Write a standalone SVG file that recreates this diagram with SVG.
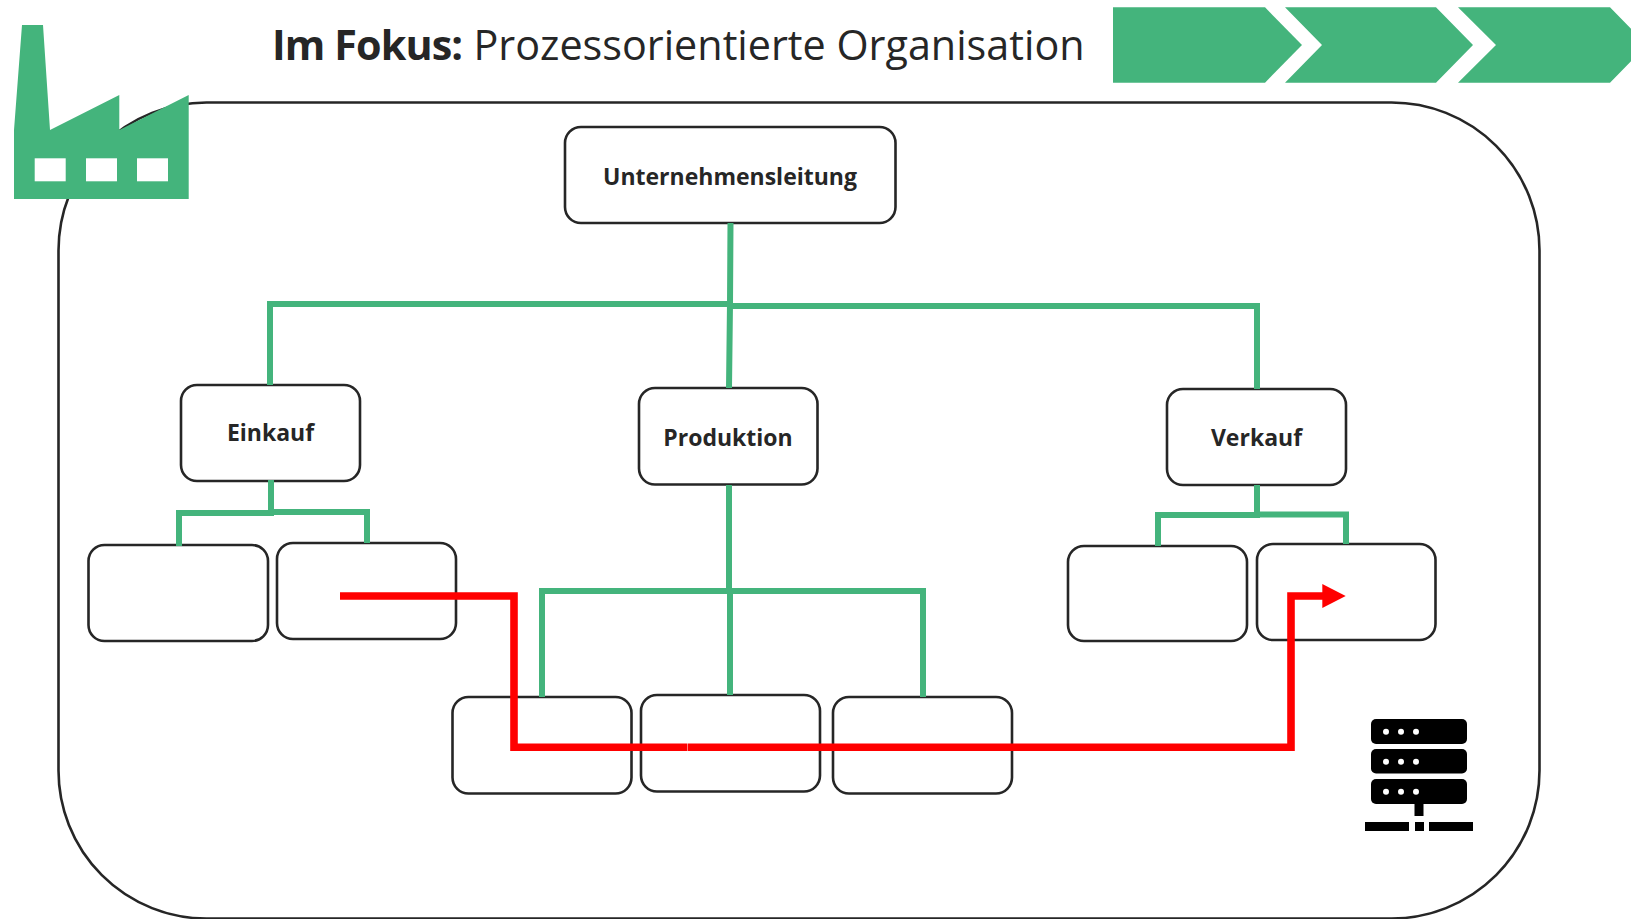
<svg xmlns="http://www.w3.org/2000/svg" width="1631" height="919" viewBox="0 0 1631 919">
<style>
.n{fill:#fff;stroke:#262626;stroke-width:2.6}
.g{fill:none;stroke:#44b47c;stroke-width:6}
.r{fill:none;stroke:#f00;stroke-width:7.6}
.t{font-family:"Open Sans","Noto Sans",sans-serif;font-weight:700;font-size:23px;fill:#262626;text-anchor:middle}
.h{font-family:"Open Sans","Noto Sans",sans-serif;font-size:41.3px;fill:#262626}
.f{fill:#44b47c}
</style>
<rect width="1631" height="919" fill="#fff"/>
<rect id="frame" x="58.500" y="102.500" width="1481" height="816" rx="148" ry="148" fill="none" stroke="#262626" stroke-width="2.600"/>
<g id="factory" class="f"><path d="M14 199V130L22 25H43L50 130L119.300 95V130L188.700 95V199Z"/><rect x="34.700" y="158.300" width="31" height="23" fill="#fff"/><rect x="86" y="158.300" width="31" height="23" fill="#fff"/><rect x="137" y="158.300" width="31" height="23" fill="#fff"/></g>
<text id="title-bold" class="h" x="272" y="59.500" font-weight="700" letter-spacing="-0.9">Im Fokus:</text>
<text id="title" class="h" x="473.500" y="59.500">Prozessorientierte Organisation</text>
<g id="chevrons" class="f"><path d="M1113 7.300H1265L1302 45L1265 82.700H1113Z"/><path d="M1285 7.300H1436L1473 45L1436 82.700H1285L1322 45Z"/><path d="M1458 7.300H1610L1647 45L1610 82.700H1458L1496 45Z"/></g>
<g id="node-top"><rect class="n" x="565" y="127" width="330.500" height="96" rx="16"/><text class="t" x="730" y="184.500">Unternehmensleitung</text></g>
<g id="node-einkauf"><rect class="n" x="181" y="385" width="179" height="96" rx="16"/><text class="t" x="270.500" y="441">Einkauf</text></g>
<g id="node-produktion"><rect class="n" x="639" y="388" width="178.500" height="96.500" rx="16"/><text class="t" x="728" y="445.500">Produktion</text></g>
<g id="node-verkauf"><rect class="n" x="1167" y="389" width="179" height="96" rx="16"/><text class="t" x="1256.500" y="445.500">Verkauf</text></g>
<g id="node-e1"><rect class="n" x="88.500" y="545" width="179.500" height="96" rx="16"/></g>
<g id="node-e2"><rect class="n" x="277" y="543" width="179" height="96" rx="16"/></g>
<g id="node-p1"><rect class="n" x="452.500" y="697" width="179" height="96.500" rx="16"/></g>
<g id="node-p2"><rect class="n" x="641" y="695" width="179" height="96.500" rx="16"/></g>
<g id="node-p3"><rect class="n" x="833" y="697" width="179" height="96.500" rx="16"/></g>
<g id="node-v1"><rect class="n" x="1068" y="546" width="179" height="95" rx="16"/></g>
<g id="node-v2"><rect class="n" x="1257" y="544" width="178.500" height="96" rx="16"/></g>
<g id="connectors">
<path class="g" d="M730.500 223L730 304M270 385V304H733M729 388L730 303M727 306H1257V389"/>
<path class="g" d="M271 480V514M179 546V513H274M268 512H367V543"/>
<path class="g" d="M729 485V591M542 697V591H923V697M730 588V695"/>
<path class="g" d="M1257 485V518M1158 546V515H1260M1254 514.500H1346V544"/>
<path class="r" d="M340 596H514V747.300H687"/><path class="r" d="M687.500 747.300H1291V596H1324"/><path d="M1322.300 584L1345.700 596L1322.300 608Z" fill="#f00"/>
</g>
<g id="server"><rect x="1371" y="719" width="96" height="25" rx="5"/><rect x="1371" y="749" width="96" height="24.500" rx="5"/><rect x="1371" y="779" width="96" height="25" rx="5"/>
<g fill="#fff"><circle cx="1386" cy="731.700" r="3"/><circle cx="1401" cy="731.700" r="3"/><circle cx="1416" cy="731.700" r="3"/><circle cx="1386" cy="761.700" r="3"/><circle cx="1401" cy="761.700" r="3"/><circle cx="1416" cy="761.700" r="3"/><circle cx="1386" cy="791.700" r="3"/><circle cx="1401" cy="791.700" r="3"/><circle cx="1416" cy="791.700" r="3"/></g>
<rect x="1414.500" y="804" width="9" height="12"/><rect x="1365" y="822" width="44" height="9"/><rect x="1415" y="822" width="9" height="9"/><rect x="1429" y="822" width="44" height="9"/></g>
</svg>
